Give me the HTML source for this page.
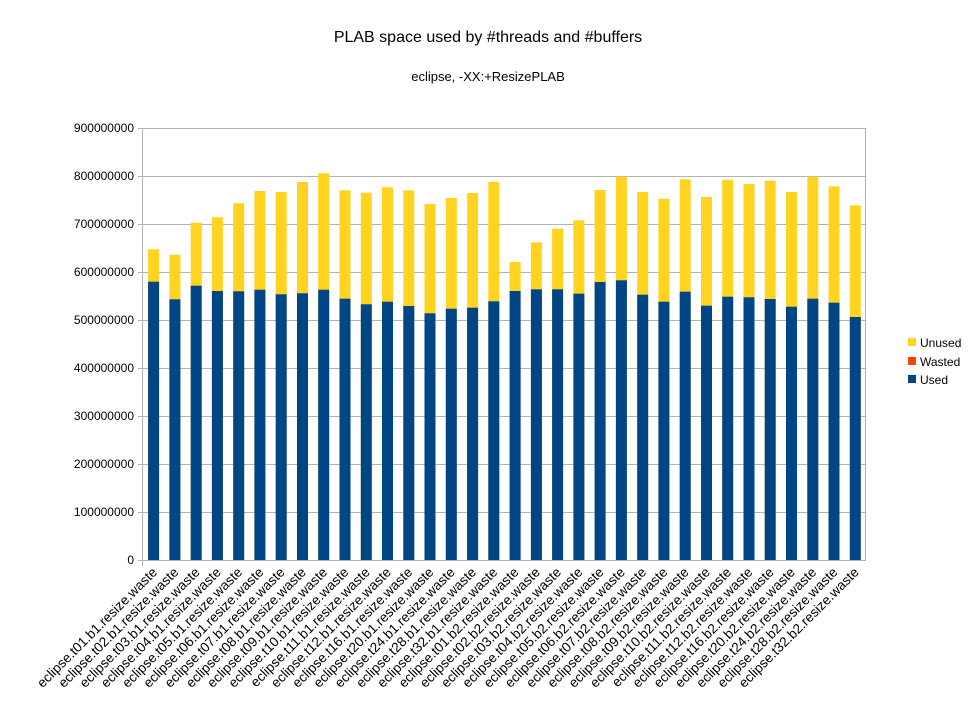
<!DOCTYPE html>
<html><head><meta charset="utf-8"><style>
html,body{margin:0;padding:0;background:#fff;}
svg{display:block;font-family:"Liberation Sans",sans-serif;}
</style></head><body>
<svg width="977" height="722" viewBox="0 0 977 722" xmlns="http://www.w3.org/2000/svg">
<rect width="977" height="722" fill="#fff"/>
<text x="488" y="42" font-size="16" text-anchor="middle" fill="#000">PLAB space used by #threads and #buffers</text>
<text x="488" y="81" font-size="13" text-anchor="middle" fill="#000">eclipse, -XX:+ResizePLAB</text>
<g stroke="#b3b3b3" stroke-width="1">
<line x1="143" y1="128.5" x2="866" y2="128.5"/><line x1="143" y1="176.5" x2="866" y2="176.5"/><line x1="143" y1="224.5" x2="866" y2="224.5"/><line x1="143" y1="272.5" x2="866" y2="272.5"/><line x1="143" y1="320.5" x2="866" y2="320.5"/><line x1="143" y1="368.5" x2="866" y2="368.5"/><line x1="143" y1="416.5" x2="866" y2="416.5"/><line x1="143" y1="464.5" x2="866" y2="464.5"/><line x1="143" y1="512.5" x2="866" y2="512.5"/><line x1="138" y1="560.5" x2="866" y2="560.5"/>
<line x1="142.5" y1="128" x2="142.5" y2="566"/><line x1="865.5" y1="128" x2="865.5" y2="560"/>
<line x1="138" y1="128.5" x2="143" y2="128.5"/><line x1="138" y1="176.5" x2="143" y2="176.5"/><line x1="138" y1="224.5" x2="143" y2="224.5"/><line x1="138" y1="272.5" x2="143" y2="272.5"/><line x1="138" y1="320.5" x2="143" y2="320.5"/><line x1="138" y1="368.5" x2="143" y2="368.5"/><line x1="138" y1="416.5" x2="143" y2="416.5"/><line x1="138" y1="464.5" x2="143" y2="464.5"/><line x1="138" y1="512.5" x2="143" y2="512.5"/>
</g>
<g font-size="12" text-anchor="end" fill="#000">
<text x="134" y="132">900000000</text><text x="134" y="180">800000000</text><text x="134" y="228">700000000</text><text x="134" y="276">600000000</text><text x="134" y="324">500000000</text><text x="134" y="372">400000000</text><text x="134" y="420">300000000</text><text x="134" y="468">200000000</text><text x="134" y="516">100000000</text><text x="134" y="564">0</text>
</g>
<g fill="#ffd320">
<rect x="148.1" y="249.3" width="11" height="311"/><rect x="169.4" y="254.7" width="11" height="306"/><rect x="190.7" y="222.7" width="11" height="338"/><rect x="211.9" y="217.3" width="11" height="343"/><rect x="233.2" y="203.3" width="11" height="357"/><rect x="254.4" y="191" width="11" height="369"/><rect x="275.7" y="192" width="11" height="368"/><rect x="297" y="182" width="11" height="378"/><rect x="318.2" y="173.3" width="11" height="387"/><rect x="339.5" y="190.3" width="11" height="370"/><rect x="360.8" y="192.7" width="11" height="368"/><rect x="382" y="187.3" width="11" height="373"/><rect x="403.3" y="190.3" width="11" height="370"/><rect x="424.5" y="204" width="11" height="356"/><rect x="445.8" y="198" width="11" height="362"/><rect x="467.1" y="193" width="11" height="367"/><rect x="488.3" y="182" width="11" height="378"/>
<rect x="509.6" y="262" width="11" height="298"/><rect x="530.9" y="242.3" width="11" height="318"/><rect x="552.1" y="228.7" width="11" height="332"/><rect x="573.4" y="220.3" width="11" height="340"/><rect x="594.6" y="190" width="11" height="370"/><rect x="615.9" y="176.7" width="11" height="384"/><rect x="637.2" y="192" width="11" height="368"/><rect x="658.4" y="198.7" width="11" height="362"/><rect x="679.7" y="179.3" width="11" height="381"/><rect x="701" y="197" width="11" height="363"/><rect x="722.2" y="179.7" width="11" height="381"/><rect x="743.5" y="184" width="11" height="376"/><rect x="764.7" y="180.7" width="11" height="380"/><rect x="786" y="192" width="11" height="368"/><rect x="807.3" y="176.7" width="11" height="384"/><rect x="828.5" y="186.3" width="11" height="374"/><rect x="849.8" y="205.3" width="11" height="355"/>
</g>
<g fill="#004586">
<rect x="148.1" y="281.7" width="11" height="278.3"/><rect x="169.4" y="299.3" width="11" height="260.7"/><rect x="190.7" y="285.7" width="11" height="274.3"/><rect x="211.9" y="291" width="11" height="269"/><rect x="233.2" y="291.3" width="11" height="268.7"/><rect x="254.4" y="289.7" width="11" height="270.3"/><rect x="275.7" y="294.3" width="11" height="265.7"/><rect x="297" y="293.3" width="11" height="266.7"/><rect x="318.2" y="289.7" width="11" height="270.3"/><rect x="339.5" y="298.7" width="11" height="261.3"/><rect x="360.8" y="304.3" width="11" height="255.7"/><rect x="382" y="301.7" width="11" height="258.3"/><rect x="403.3" y="306" width="11" height="254"/><rect x="424.5" y="313.3" width="11" height="246.7"/><rect x="445.8" y="308.7" width="11" height="251.3"/><rect x="467.1" y="307.7" width="11" height="252.3"/><rect x="488.3" y="301.3" width="11" height="258.7"/>
<rect x="509.6" y="291" width="11" height="269"/><rect x="530.9" y="289.3" width="11" height="270.7"/><rect x="552.1" y="289.3" width="11" height="270.7"/><rect x="573.4" y="293.7" width="11" height="266.3"/><rect x="594.6" y="282" width="11" height="278"/><rect x="615.9" y="280.3" width="11" height="279.7"/><rect x="637.2" y="294.7" width="11" height="265.3"/><rect x="658.4" y="301.7" width="11" height="258.3"/><rect x="679.7" y="291.7" width="11" height="268.3"/><rect x="701" y="305.7" width="11" height="254.3"/><rect x="722.2" y="296.7" width="11" height="263.3"/><rect x="743.5" y="297.3" width="11" height="262.7"/><rect x="764.7" y="299" width="11" height="261"/><rect x="786" y="306.7" width="11" height="253.3"/><rect x="807.3" y="298.7" width="11" height="261.3"/><rect x="828.5" y="302.7" width="11" height="257.3"/><rect x="849.8" y="317" width="11" height="243"/>
</g>
<g stroke="#b3b3b3"><line x1="143" y1="560.5" x2="866" y2="560.5"/></g>
<g font-size="13.6" text-anchor="end" fill="#000">
<text transform="translate(158,573) rotate(-45)">eclipse.t01.b1.resize.waste</text>
<text transform="translate(179.3,573) rotate(-45)">eclipse.t02.b1.resize.waste</text>
<text transform="translate(200.6,573) rotate(-45)">eclipse.t03.b1.resize.waste</text>
<text transform="translate(221.8,573) rotate(-45)">eclipse.t04.b1.resize.waste</text>
<text transform="translate(243.1,573) rotate(-45)">eclipse.t05.b1.resize.waste</text>
<text transform="translate(264.3,573) rotate(-45)">eclipse.t06.b1.resize.waste</text>
<text transform="translate(285.6,573) rotate(-45)">eclipse.t07.b1.resize.waste</text>
<text transform="translate(306.9,573) rotate(-45)">eclipse.t08.b1.resize.waste</text>
<text transform="translate(328.1,573) rotate(-45)">eclipse.t09.b1.resize.waste</text>
<text transform="translate(349.4,573) rotate(-45)">eclipse.t10.b1.resize.waste</text>
<text transform="translate(370.7,573) rotate(-45)">eclipse.t11.b1.resize.waste</text>
<text transform="translate(391.9,573) rotate(-45)">eclipse.t12.b1.resize.waste</text>
<text transform="translate(413.2,573) rotate(-45)">eclipse.t16.b1.resize.waste</text>
<text transform="translate(434.4,573) rotate(-45)">eclipse.t20.b1.resize.waste</text>
<text transform="translate(455.7,573) rotate(-45)">eclipse.t24.b1.resize.waste</text>
<text transform="translate(477,573) rotate(-45)">eclipse.t28.b1.resize.waste</text>
<text transform="translate(498.2,573) rotate(-45)">eclipse.t32.b1.resize.waste</text>
<text transform="translate(519.5,573) rotate(-45)">eclipse.t01.b2.resize.waste</text>
<text transform="translate(540.8,573) rotate(-45)">eclipse.t02.b2.resize.waste</text>
<text transform="translate(562,573) rotate(-45)">eclipse.t03.b2.resize.waste</text>
<text transform="translate(583.3,573) rotate(-45)">eclipse.t04.b2.resize.waste</text>
<text transform="translate(604.5,573) rotate(-45)">eclipse.t05.b2.resize.waste</text>
<text transform="translate(625.8,573) rotate(-45)">eclipse.t06.b2.resize.waste</text>
<text transform="translate(647.1,573) rotate(-45)">eclipse.t07.b2.resize.waste</text>
<text transform="translate(668.3,573) rotate(-45)">eclipse.t08.b2.resize.waste</text>
<text transform="translate(689.6,573) rotate(-45)">eclipse.t09.b2.resize.waste</text>
<text transform="translate(710.9,573) rotate(-45)">eclipse.t10.b2.resize.waste</text>
<text transform="translate(732.1,573) rotate(-45)">eclipse.t11.b2.resize.waste</text>
<text transform="translate(753.4,573) rotate(-45)">eclipse.t12.b2.resize.waste</text>
<text transform="translate(774.6,573) rotate(-45)">eclipse.t16.b2.resize.waste</text>
<text transform="translate(795.9,573) rotate(-45)">eclipse.t20.b2.resize.waste</text>
<text transform="translate(817.2,573) rotate(-45)">eclipse.t24.b2.resize.waste</text>
<text transform="translate(838.4,573) rotate(-45)">eclipse.t28.b2.resize.waste</text>
<text transform="translate(859.7,573) rotate(-45)">eclipse.t32.b2.resize.waste</text>
</g>
<rect x="908" y="338" width="8" height="8" fill="#ffd320"/>
<rect x="908" y="357" width="8" height="8" fill="#ff420e"/>
<rect x="908" y="375" width="8" height="8" fill="#004586"/>
<g font-size="12" fill="#000">
<text x="920" y="347">Unused</text><text x="920" y="366">Wasted</text><text x="920" y="384">Used</text>
</g>
</svg>
</body></html>
